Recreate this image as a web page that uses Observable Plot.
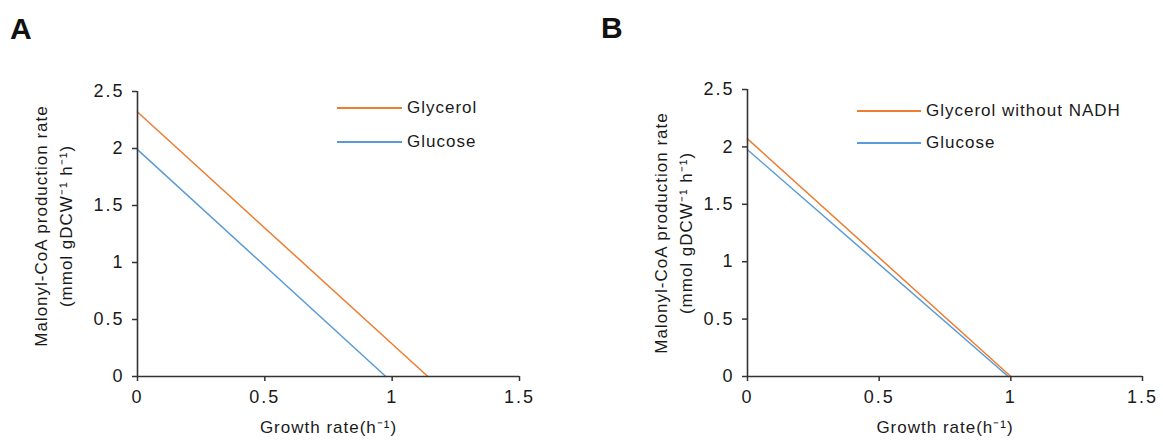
<!DOCTYPE html>
<html>
<head>
<meta charset="utf-8">
<script src="https://cdn.jsdelivr.net/npm/d3@7"></script>
<script src="https://cdn.jsdelivr.net/npm/@observablehq/plot@0.6"></script>
<style>
  body { margin: 0; background: #fff; font-family: "Liberation Sans", Arial, sans-serif; }
  #wrap { position: relative; width: 1163px; height: 444px; overflow: hidden; background: #fff; }
  .panel { position: absolute; top: 0; letter-spacing: 1px; }
  .tag { position: absolute; font-weight: bold; font-size: 30px; line-height: 30px; color: #111; }
  .legend { position: absolute; font-size: 17px; letter-spacing: 1px; color: #1a1a1a; }
  .item { position: absolute; display: flex; align-items: center; white-space: nowrap; height: 20px; }
  .sw { display: inline-block; height: 2px; margin-right: 5px; }
  .panel [aria-label^="x-axis tick label"], .panel [aria-label^="y-axis tick label"] { letter-spacing: 2px; }
</style>
</head>
<body>
<div id="wrap"></div>
<script>
// ---- data ----
const xTicks = [0, 0.5, 1, 1.5];
const yTicks = [0, 0.5, 1, 1.5, 2, 2.5];
const xLabel = "Growth rate(h\u207B\u00B9)";
const yLabel = "Malonyl-CoA production rate\n(mmol gDCW\u207B\u00B9 h\u207B\u00B9)";

// Panel A
const seriesA = ["Glycerol", "Glucose"];
const interceptA = [2.32, 1.99];     // rate at growth 0
const maxGrowthA = [1.14, 0.975];    // growth at rate 0

// Panel B
const seriesB = ["Glycerol without NADH", "Glucose"];
const interceptB = [2.07, 1.975];
const maxGrowthB = [1.0, 0.99];

const colors = ["#ED7D31", "#5B9BD5"];

function rows(series, intercept, maxGrowth) {
  const out = [];
  series.forEach((s, i) => {
    out.push({series: s, growth: 0, rate: intercept[i]});
    out.push({series: s, growth: maxGrowth[i], rate: 0});
  });
  return out;
}

const fmt = d => String(d);

function panel({series, data, width, marginLeft, marginRight, marginTop, titleDx, titleDy}) {
  return Plot.plot({
    width, height: 444,
    marginLeft, marginRight, marginTop, marginBottom: 68,
    x: {domain: [0, 1.5]},
    y: {domain: [0, 2.5]},
    color: {domain: series, range: colors},
    style: {fontFamily: "Liberation Sans, Arial, sans-serif", fontSize: "17px", color: "#1a1a1a", background: "white"},
    marks: [
      Plot.line(data, {x: "growth", y: "rate", z: "series", stroke: "series", strokeWidth: 1.5}),
      Plot.axisX({ticks: xTicks, tickFormat: fmt, tickSize: 5, tickPadding: 9, label: null, stroke: "#333", strokeWidth: 1.5, fontSize: 18}),
      Plot.axisY({ticks: yTicks, tickFormat: fmt, tickSize: 5, tickPadding: 8, label: null, stroke: "#333", strokeWidth: 1.5, fontSize: 18}),
      Plot.ruleX([0], {stroke: "#333", strokeWidth: 1.6}),
      Plot.ruleY([0], {stroke: "#333", strokeWidth: 1.6}),
      Plot.text([xLabel], {frameAnchor: "bottom", dy: 56, fontSize: 17, fill: "#1a1a1a"}),
      Plot.text([yLabel], {frameAnchor: "left", textAnchor: "middle", lineAnchor: "middle", rotate: -90, dx: titleDx, dy: titleDy, fontSize: 17, lineHeight: 1.47, fill: "#1a1a1a"})
    ]
  });
}

const wrap = document.getElementById("wrap");

const pA = panel({series: seriesA, data: rows(seriesA, interceptA, maxGrowthA), width: 581, marginLeft: 137, marginRight: 62, marginTop: 91, titleDx: -86, titleDy: -8});
pA.classList.add("panel"); pA.style.left = "0px";
wrap.appendChild(pA);

const pB = panel({series: seriesB, data: rows(seriesB, interceptB, maxGrowthB), width: 582, marginLeft: 166, marginRight: 21, marginTop: 89, titleDx: -76, titleDy: 0});
pB.classList.add("panel"); pB.style.left = "581px";
wrap.appendChild(pB);

function tag(t, left, top) {
  const d = document.createElement("div");
  d.className = "tag"; d.textContent = t;
  d.style.left = left + "px"; d.style.top = top + "px";
  wrap.appendChild(d);
}
tag("A", 10, 14);
tag("B", 601, 13);

function legend(series, left, tops, swW) {
  const lg = document.createElement("div");
  lg.className = "legend";
  lg.style.left = left + "px"; lg.style.top = "0px";
  series.forEach((s, i) => {
    const it = document.createElement("div");
    it.className = "item";
    it.style.top = (tops[i] - 10) + "px";
    const sw = document.createElement("span");
    sw.className = "sw"; sw.style.width = swW + "px"; sw.style.background = colors[i];
    it.appendChild(sw);
    it.appendChild(document.createTextNode(s));
    lg.appendChild(it);
  });
  wrap.appendChild(lg);
}
legend(seriesA, 337, [108, 142], 65);
legend(seriesB, 857, [111, 143], 64);
</script>
</body>
</html>
